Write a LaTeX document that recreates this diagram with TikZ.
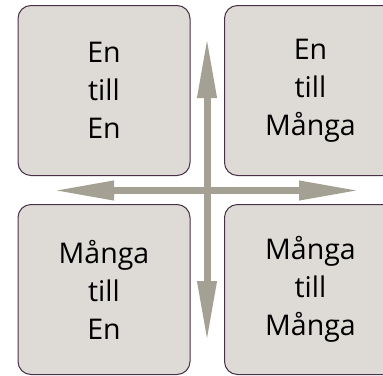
\documentclass[tikz,border=0pt]{standalone}
\usepackage{fontspec}
\setmainfont{Open Sans}
\usetikzlibrary{arrows.meta}
\definecolor{boxfill}{HTML}{DEDBD6}
\definecolor{boxline}{HTML}{4A3048}
\definecolor{arrowcol}{HTML}{A4A194}
\begin{document}
\begin{tikzpicture}[x=1pt,y=-1pt,
  card/.style={draw=boxline, line width=1pt, fill=boxfill, rounded corners=13pt,
    minimum width=172pt, minimum height=170pt, inner sep=0pt, align=center,
    font=\fontsize{28.5}{38}\selectfont, text=black},
  bigarrow/.style={draw=arrowcol, line width=7pt,
    {Triangle[length=61pt,width=18pt]}-{Triangle[length=61pt,width=18pt]}}]
\useasboundingbox (0,0) rectangle (383,375);
\begin{scope}
\clip (0,0) rectangle (383,375);
\node[card] (a) at (104,90.5) {En\\till\\En};
\node[card] (b) at (310.5,90.5) {En\\till\\Många};
\node[card] (c) at (104,289.5) {Många\\till\\En};
\node[card] (d) at (310.5,289.5) {Många\\till\\Många};
\end{scope}
\coordinate (left) at (53,190.5);
\coordinate (right) at (360,190.5);
\coordinate (top) at (207,37);
\coordinate (bottom) at (207,342);
\draw[bigarrow] (left) -- (right);
\draw[bigarrow] (top) -- (bottom);
\end{tikzpicture}
\end{document}
